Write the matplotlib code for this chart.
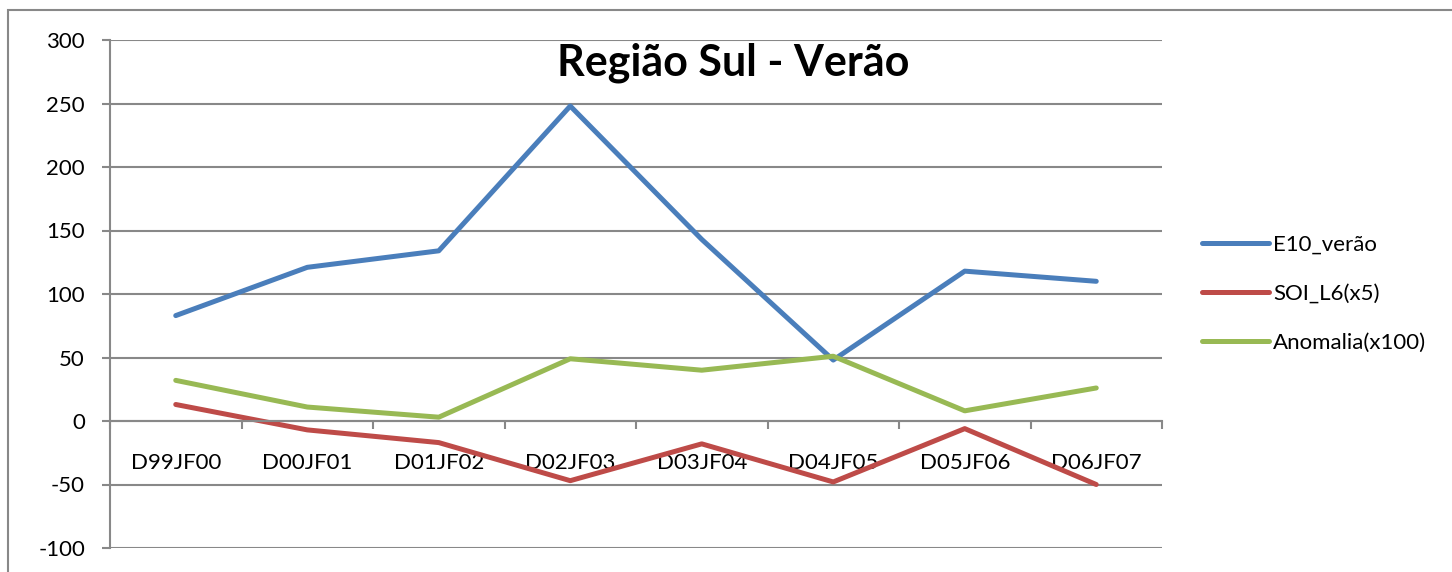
import numpy as np
import matplotlib.pyplot as plt
from matplotlib.patches import Rectangle

# data
categorias = ['D99JF00', 'D00JF01', 'D01JF02', 'D02JF03', 'D03JF04', 'D04JF05', 'D05JF06', 'D06JF07']
e10_verao = [83, 121, 134, 248, 143, 48, 118, 110]
soi_l6 = [13, -7, -17, -47, -18, -48, -6, -50]
anomalia = [32, 11, 3, 49, 40, 51, 8, 26]

plt.rcParams['font.family'] = ['Lato', 'DejaVu Sans']
plt.rcParams['axes.unicode_minus'] = False
grid_cor = '#888888'

fig = plt.figure(figsize=(14.52, 5.72), dpi=100)
ax = fig.add_axes([110/1452, 1-548/572, 1052/1452, 508/572])

x = np.arange(len(categorias))
ax.plot(x, e10_verao, color='#4a7ebb', lw=3.6, label='E10_verão', solid_capstyle='round')
ax.plot(x, soi_l6, color='#be4b48', lw=3.6, label='SOI_L6(x5)', solid_capstyle='round')
ax.plot(x, anomalia, color='#98b954', lw=3.6, label='Anomalia(x100)', solid_capstyle='round')

ax.set_xlim(-0.5, len(categorias) - 0.5)
ax.set_ylim(-100, 300)
ax.set_yticks(np.arange(-100, 301, 50))
ax.yaxis.grid(True, color=grid_cor, lw=1.5)
ax.set_axisbelow(True)

for s in ['top', 'right']:
    ax.spines[s].set_visible(False)
ax.spines['left'].set_color(grid_cor)
ax.spines['left'].set_linewidth(1.5)
ax.spines['bottom'].set_position(('data', 0))
ax.spines['bottom'].set_color(grid_cor)
ax.spines['bottom'].set_linewidth(1.5)

# category boundaries as major ticks, labels on minor ticks
ax.set_xticks(np.arange(-0.5, len(categorias), 1))
ax.set_xticklabels([])
ax.set_xticks(x, minor=True)
ax.set_xticklabels(categorias, minor=True, fontsize=16)
ax.tick_params(axis='x', which='major', direction='out', length=6, width=1.5, color=grid_cor)
ax.tick_params(axis='x', which='minor', length=0, pad=23)
ax.tick_params(axis='y', direction='out', length=6, width=1.5, color=grid_cor, labelsize=16, pad=12)

fig.text(733/1452, 1-63/572, 'Região Sul - Verão', fontsize=31, fontweight='bold',
         ha='center', va='center')

ax.legend(loc='center left', bbox_to_anchor=(1182/1452, 1-294/572), bbox_transform=fig.transFigure,
          frameon=False, fontsize=16, handlelength=3.0, handletextpad=0.2, labelspacing=1.3)

# outer chart frame
fig.patches.append(Rectangle((8/1452, -0.2), 2, 1.2 - 10/572, transform=fig.transFigure,
                             fill=False, edgecolor=grid_cor, lw=1.5))

fig.savefig('out.png', dpi=100)
